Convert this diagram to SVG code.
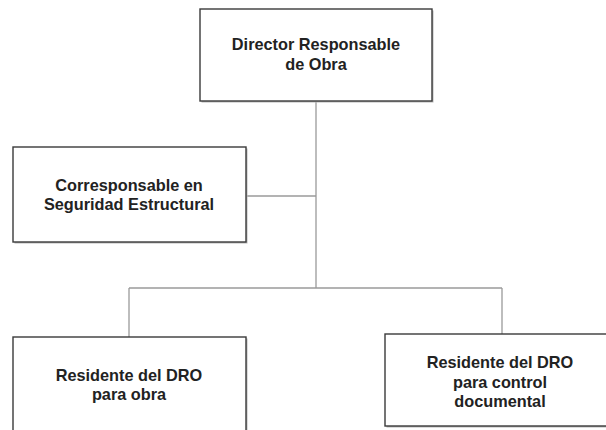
<svg xmlns="http://www.w3.org/2000/svg" width="606" height="430" viewBox="0 0 606 430">
  <style>
    .box { fill: #ffffff; stroke: #3a3a3a; stroke-width: 1.4; }
    .shadow { fill: #b8b8b8; }
    .lbl { font-family: "Liberation Sans", Arial, sans-serif; font-weight: bold; font-size: 16.3px; fill: #222222; text-anchor: middle; }
    .conn { stroke: #9a9a9a; stroke-width: 1.3; fill: none; }
  </style>
  <rect width="606" height="430" fill="#ffffff"/>
  <g id="connectors">
    <line class="conn" x1="316" y1="101" x2="316" y2="288"/>
    <line class="conn" x1="246" y1="196" x2="316" y2="196"/>
    <line class="conn" x1="129" y1="288" x2="502" y2="288"/>
    <line class="conn" x1="129" y1="288" x2="129" y2="337"/>
    <line class="conn" x1="502" y1="288" x2="502" y2="334"/>
  </g>
  <g id="director">
    <rect class="shadow" x="201.5" y="10.5" width="232" height="92"/>
    <rect class="box" x="200" y="9" width="232" height="92"/>
    <text class="lbl" x="316" y="50">Director Responsable</text>
    <text class="lbl" x="316" y="70">de Obra</text>
  </g>
  <g id="corresponsable">
    <rect class="shadow" x="14.5" y="148.5" width="233" height="95"/>
    <rect class="box" x="13" y="147" width="233" height="95"/>
    <text class="lbl" x="129" y="191">Corresponsable en</text>
    <text class="lbl" x="129" y="210">Seguridad Estructural</text>
  </g>
  <g id="residente-obra">
    <rect class="shadow" x="14.5" y="338.5" width="233" height="100"/>
    <rect class="box" x="13" y="337" width="233" height="100"/>
    <text class="lbl" x="129" y="381">Residente del DRO</text>
    <text class="lbl" x="129" y="400">para obra</text>
  </g>
  <g id="residente-control">
    <rect class="shadow" x="386.5" y="335.5" width="232" height="92"/>
    <rect class="box" x="385" y="334" width="232" height="92"/>
    <text class="lbl" x="500" y="368">Residente del DRO</text>
    <text class="lbl" x="500" y="388">para control</text>
    <text class="lbl" x="500" y="407">documental</text>
  </g>
</svg>
